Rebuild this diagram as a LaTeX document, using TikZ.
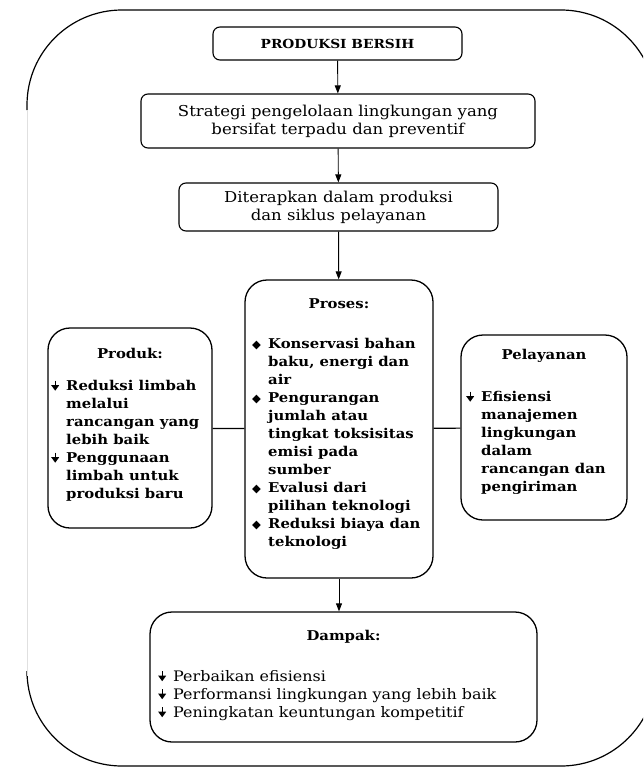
\documentclass[tikz,border=0pt]{standalone}
\usepackage{fontspec}
\setmainfont[FakeStretch=1.1]{DejaVu Serif}
\newfontfamily\symfont{DejaVu Sans}
\usetikzlibrary{arrows.meta}

\tikzstyle{box}=[draw=black,line width=1.1pt,rounded corners=7pt,inner sep=0pt]
\tikzstyle{bigbox}=[box,line width=1.3pt,rounded corners=22pt]
\tikzstyle{arr}=[draw=black,line width=0.9pt,-{Triangle[width=6pt,length=8pt]}]
\tikzstyle{link}=[draw=black,line width=1.2pt]
\tikzstyle{outer}=[draw=black,line width=1.2pt,rounded corners=95pt]
\tikzstyle{head}=[font=\fontsize{13.5}{16}\selectfont\bfseries]
\tikzstyle{txt}=[font=\fontsize{15}{18}\selectfont,align=center]
\tikzstyle{items}=[font=\fontsize{13.5}{18}\selectfont\bfseries,align=left,anchor=north west,inner sep=0pt]
\tikzstyle{ditems}=[font=\fontsize{14.5}{18}\selectfont,align=left,anchor=north west,inner sep=0pt]

\newcommand{\darr}{\makebox[15pt][l]{\tikz[x=1pt,y=1pt,baseline=0pt]{%
  \draw[line width=1pt] (4,10)--(4,4); \fill (0,5.5)--(8,5.5)--(4,0)--cycle;}}}
\newcommand{\dia}{\makebox[16pt][l]{\symfont\fontsize{11.5}{11.5}\selectfont ◆}}
\newcommand{\hang}[1][15pt]{\hspace*{#1}}

\begin{document}
\begin{tikzpicture}[x=1pt,y=-1pt]
\useasboundingbox (0,0) rectangle (643,768);

% outer frame
\begin{scope}
\clip (0,0) rectangle (643,768);
\draw[outer] (27,110) -- (27,10) -- (656,10) -- (656,766) -- (27,766) -- (27,676);
\end{scope}
\draw[black!12,line width=0.5pt] (27,110) -- (27,676);

% top chain
\node[box,head,font=\fontsize{12.5}{15}\selectfont\bfseries,minimum width=249pt,minimum height=33pt] (pb) at (337.5,43.5) {PRODUKSI BERSIH};
\node[box,txt,minimum width=394pt,minimum height=54pt] (strat) at (338,121)
  {Strategi pengelolaan lingkungan yang\\bersifat terpadu dan preventif};
\node[box,txt,minimum width=319pt,minimum height=48pt] (terap) at (338.5,207)
  {Diterapkan dalam produksi\\dan siklus pelayanan};

% middle row
\node[bigbox,minimum width=188pt,minimum height=298pt] (proses) at (339,429) {};
\node[bigbox,minimum width=164pt,minimum height=200pt] (produk) at (130,428) {};
\node[bigbox,minimum width=166pt,minimum height=185pt] (layan) at (544,427.5) {};

\node[head] (prosesT) at (339,304) {Proses:};
\node[head] (produkT) at (130,353) {Produk:};
\node[head] (layanT) at (544,356) {Pelayanan};

\node[items] (produkI) at (51,380) {\darr Reduksi limbah\\ \hang melalui\\ \hang rancangan yang\\
  \hang lebih baik\\ \darr Penggunaan\\ \hang limbah untuk\\ \hang produksi baru};
\node[items] (prosesI) at (252,338) {\dia Konservasi bahan\\ \hang[16pt]baku, energi dan\\ \hang[16pt]air\\
  \dia Pengurangan\\ \hang[16pt]jumlah atau\\ \hang[16pt]tingkat toksisitas\\ \hang[16pt]emisi pada\\
  \hang[16pt]sumber\\ \dia Evalusi dari\\ \hang[16pt]pilihan teknologi\\ \dia Reduksi biaya dan\\
  \hang[16pt]teknologi};
\node[items] (layanI) at (466,391) {\darr Efisiensi\\ \hang manajemen\\ \hang lingkungan\\ \hang dalam\\
  \hang rancangan dan\\ \hang pengiriman};

% bottom
\node[bigbox,minimum width=387pt,minimum height=130pt] (dampak) at (343.5,677) {};
\node[head] (dampakT) at (343.5,637) {Dampak:};
\node[ditems] (dampakI) at (158,670) {\darr Perbaikan efisiensi\\ \darr Performansi lingkungan yang lebih baik\\
  \darr Peningkatan keuntungan kompetitif};

\draw[arr] (pb) -- (strat);
\draw[arr] (strat) -- (terap);
\draw[arr] (terap) -- (proses);
\draw[arr] (proses.south) -- (proses.south |- dampak.north);
\draw[link] (produk) -- (proses);
\draw[link] (proses) -- (layan);
\end{tikzpicture}
\end{document}
